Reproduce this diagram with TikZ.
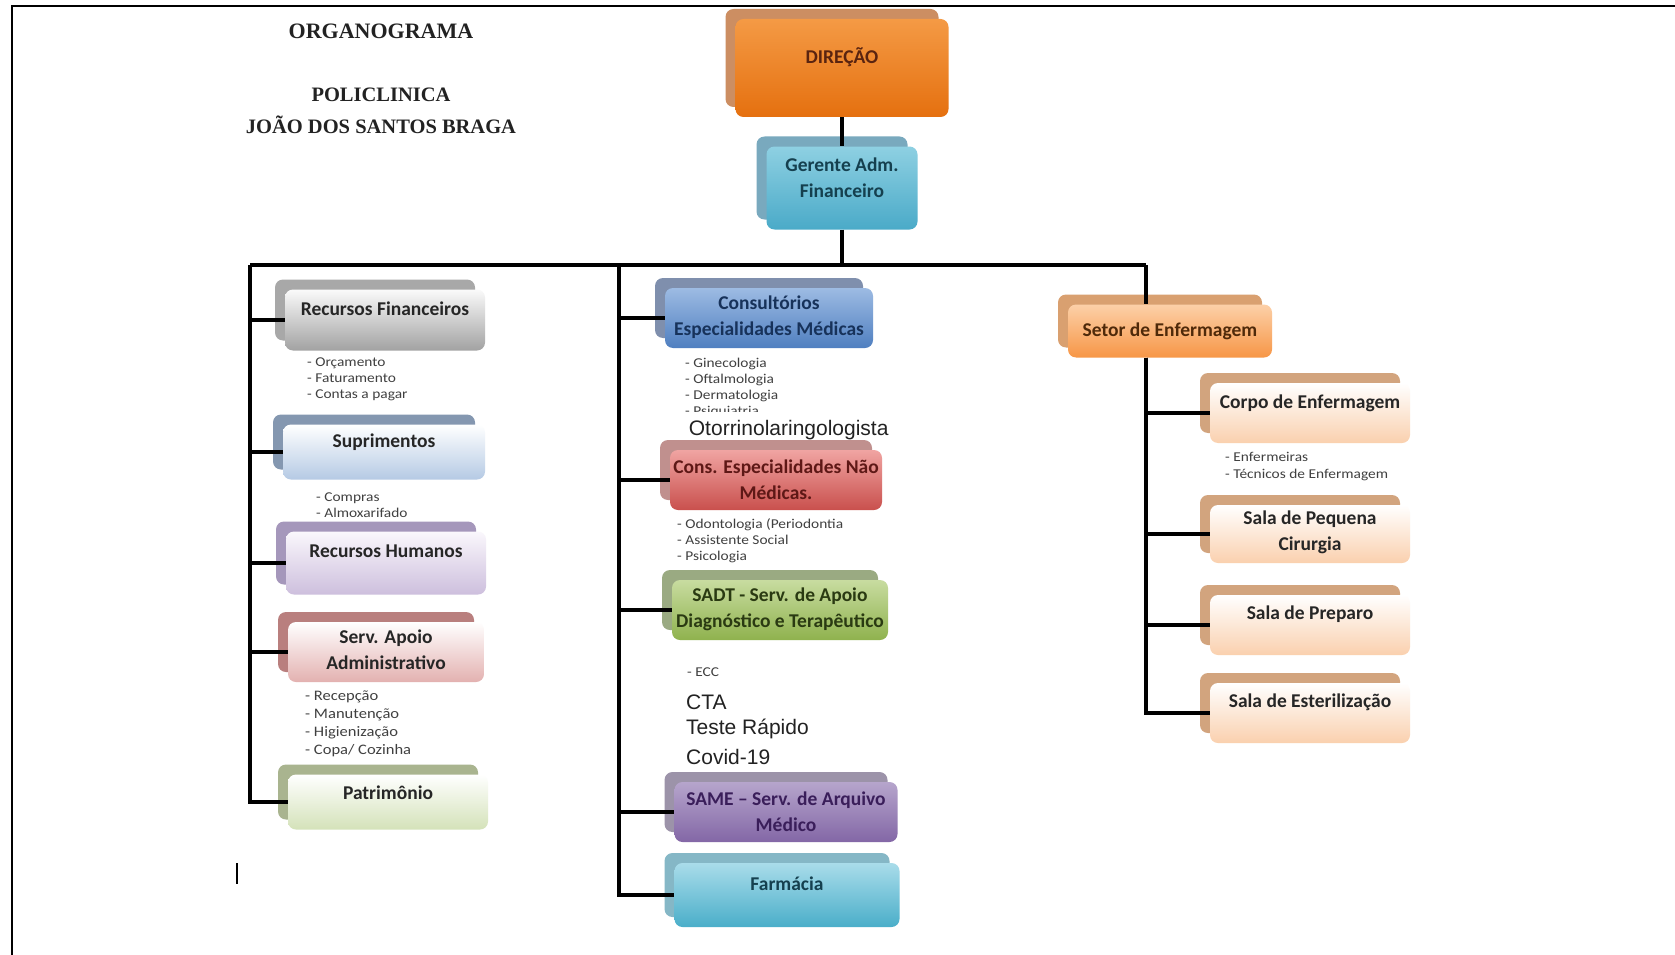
\documentclass[tikz,border=0pt]{standalone}
\usepackage{fontspec}
\newfontfamily\carl{Carlito}
\newfontfamily\carlw[FakeStretch=1.14]{Carlito}
\newfontfamily\asans{Liberation Sans}
\newfontfamily\tserif{Liberation Serif}
\definecolor{subgray}{HTML}{404040}
\definecolor{bigtx}{HTML}{222222}
\definecolor{txdir}{HTML}{5A2410}
\definecolor{txger}{HTML}{15404F}
\definecolor{txd}{HTML}{262626}
\definecolor{txcem}{HTML}{17325A}
\definecolor{txcen}{HTML}{5E1816}
\definecolor{txsadt}{HTML}{2A3A12}
\definecolor{txsame}{HTML}{3A1E5A}
\definecolor{txset}{HTML}{4F2A0A}
\tikzset{
  backbox/.style={rounded corners=8pt, inner sep=0pt},
  frontbox/.style={rounded corners=8pt, inner sep=0pt},
  ttl/.style={font=\carl\bfseries\fontsize{19.5}{26}\selectfont, align=center, inner sep=0pt},
  titlef/.style={font=\tserif\bfseries\fontsize{20.5}{24}\selectfont, text=bigtx, inner sep=0pt},
  sublist/.style={font=\carlw\fontsize{13.5}{16}\selectfont, align=left, anchor=north west, inner sep=0pt, text=subgray},
  bigtext/.style={font=\asans\fontsize{21}{28}\selectfont, anchor=west, inner sep=0pt, text=bigtx},
  link/.style={line width=3.2pt, black},
  cdirF/.style={top color={rgb,255:red,244;green,154;blue,69}, bottom color={rgb,255:red,229;green,112;blue,15}},
  cdirB/.style={fill={rgb,255:red,204;green,142;blue,98}},
  cgerF/.style={top color={rgb,255:red,142;green,208;blue,226}, bottom color={rgb,255:red,74;green,170;blue,200}},
  cgerB/.style={fill={rgb,255:red,121;green,169;blue,190}},
  cgryF/.style={top color={rgb,255:red,250;green,250;blue,250}, bottom color={rgb,255:red,162;green,162;blue,162}},
  cgryB/.style={fill={rgb,255:red,168;green,168;blue,168}},
  cbluF/.style={top color=white, bottom color={rgb,255:red,181;green,202;blue,228}},
  cbluB/.style={fill={rgb,255:red,132;green,151;blue,176}},
  clavF/.style={top color={rgb,255:red,250;green,247;blue,252}, bottom color={rgb,255:red,205;green,191;blue,221}},
  clavB/.style={fill={rgb,255:red,165;green,151;blue,187}},
  cpnkF/.style={top color=white, bottom color={rgb,255:red,227;green,177;blue,176}},
  cpnkB/.style={fill={rgb,255:red,185;green,127;blue,126}},
  cgrnF/.style={top color=white, bottom color={rgb,255:red,212;green,226;blue,185}},
  cgrnB/.style={fill={rgb,255:red,169;green,180;blue,143}},
  cbltF/.style={top color={rgb,255:red,157;green,187;blue,227}, bottom color={rgb,255:red,79;green,127;blue,192}},
  cbltB/.style={fill={rgb,255:red,127;green,143;blue,173}},
  credF/.style={top color={rgb,255:red,240;green,164;blue,162}, bottom color={rgb,255:red,201;green,80;blue,77}},
  credB/.style={fill={rgb,255:red,192;green,144;blue,142}},
  cgrtF/.style={top color={rgb,255:red,200;green,220;blue,160}, bottom color={rgb,255:red,143;green,178;blue,78}},
  cgrtB/.style={fill={rgb,255:red,154;green,170;blue,130}},
  cpurF/.style={top color={rgb,255:red,182;green,165;blue,204}, bottom color={rgb,255:red,131;green,103;blue,166}},
  cpurB/.style={fill={rgb,255:red,156;green,147;blue,169}},
  ctealF/.style={top color={rgb,255:red,169;green,220;blue,234}, bottom color={rgb,255:red,74;green,174;blue,201}},
  ctealB/.style={fill={rgb,255:red,133;green,183;blue,198}},
  corgF/.style={top color={rgb,255:red,252;green,208;blue,168}, bottom color={rgb,255:red,247;green,150;blue,70}},
  corgB/.style={fill={rgb,255:red,217;green,160;blue,112}},
  cpchF/.style={top color=white, bottom color={rgb,255:red,250;green,208;blue,174}},
  cpchB/.style={fill={rgb,255:red,210;green,164;blue,126}},
}
% name, cx, cy, w, h, colourset, textcolour, text dy, text
\newcommand\obox[9]{%
  \node[backbox, #6B, minimum width=#4pt, minimum height=#5pt] (#1-b) at (#2-10,#3-10) {};
  \node[frontbox, #6F, minimum width=#4pt, minimum height=#5pt] (#1) at (#2,#3) {};
  \node[ttl, text=#7] (#1-t) at (#2,#3+#8) {#9};
}
\begin{document}
\begin{tikzpicture}[x=1pt,y=-1pt]
\useasboundingbox (0,0) rectangle (1675,955);
\fill[white] (0,0) rectangle (1675,955);
\draw[line width=2.2pt] (12,955) -- (12,6) -- (1675,6);

% titles
\node[titlef, font=\tserif\bfseries\fontsize{22}{24}\selectfont] (t1) at (381,31) {ORGANOGRAMA};
\node[titlef] (t2) at (381,95) {POLICLINICA};
\node[titlef] (t3) at (381,125) {JOÃO DOS SANTOS BRAGA};

% boxes
\obox{dir}{842}{68}{213}{98}{cdir}{txdir}{-11}{DIREÇÃO}
\obox{ger}{842}{188}{151}{83}{cger}{txger}{-10}{Gerente Adm.\\Financeiro}
\obox{rf}{385}{320}{200}{61}{cgry}{txd}{-11}{Recursos Financeiros}
\obox{sup}{384}{452}{202}{55}{cblu}{txd}{-10}{Suprimentos}
\obox{rh}{386}{563}{200}{63}{clav}{txd}{-12}{Recursos Humanos}
\obox{sa}{386}{652}{196}{60}{cpnk}{txd}{-2}{Serv. Apoio\\Administrativo}
\obox{pat}{388}{802}{200}{55}{cgrn}{txd}{-9}{Patrimônio}
\obox{cem}{769}{318}{208}{60}{cblt}{txcem}{-1}{Consultórios\\Especialidades Médicas}
\obox{cen}{776}{480}{212}{60}{cred}{txcen}{0}{Cons. Especialidades Não\\Médicas.}
\obox{sadt}{780}{610}{216}{60}{cgrt}{txsadt}{-1}{SADT - Serv. de Apoio\\Diagnóstico e Terapêutico}
\obox{same}{786}{812}{223}{60}{cpur}{txsame}{0}{SAME – Serv. de Arquivo\\Médico}
\obox{farm}{787}{895}{225}{64}{cteal}{txger}{-11}{Farmácia}
\obox{setor}{1170}{331}{204}{53}{corg}{txset}{0}{Setor de Enfermagem}
\obox{corpo}{1310}{413}{200}{60}{cpch}{txd}{-10}{Corpo de Enfermagem}
\obox{spc}{1310}{534}{200}{58}{cpch}{txd}{-2}{Sala de Pequena\\Cirurgia}
\obox{spr}{1310}{625}{200}{60}{cpch}{txd}{-11}{Sala de Preparo}
\obox{ses}{1310}{713}{200}{60}{cpch}{txd}{-11}{Sala de Esterilização}

% connectors
\coordinate (L) at (250,265);
\coordinate (M) at (619,265);
\coordinate (R) at (1146,265);
\draw[link] (dir.south) -- (ger.north);
\draw[link] (ger.south) -- (ger.south |- L);
\draw[link] (L) -- (R);
\draw[link] (L) |- (rf.west);
\draw[link] (L) |- (sup.west);
\draw[link] (L) |- (rh.west);
\draw[link] (L) |- (sa.west);
\draw[link] (L) |- (pat.west);
\draw[link] (M) |- (cem.west);
\draw[link] (M) |- (cen.west);
\draw[link] (M) |- (sadt.west);
\draw[link] (M) |- (same.west);
\draw[link] (M) |- (farm.west);
\draw[link] (R) -- (R |- setor.north);
\coordinate (Rs) at (R |- setor.south);
\draw[link] (Rs) |- (corpo.west);
\draw[link] (Rs) |- (spc.west);
\draw[link] (Rs) |- (spr.west);
\draw[link] (Rs) |- (ses.west);

% sub lists
\node[sublist] (rfl) at (307,358) {- Orçamento\\- Faturamento\\- Contas a pagar};
\node[sublist] (supl) at (316,493) {- Compras\\- Almoxarifado};
\node[sublist, font=\carlw\fontsize{14.5}{18}\selectfont] (sal) at (305,691) {- Recepção\\- Manutenção\\- Higienização\\- Copa/ Cozinha};
\node[sublist] (ceml) at (685,358) {- Ginecologia\\- Oftalmologia\\- Dermatologia\\- Psiquiatria};
\node[bigtext, anchor=base west, fill=white, text height=23pt, text depth=5pt, minimum width=205pt] (oto) at (686,435) {Otorrinolaringologista};
\node[sublist] (cenl) at (677,518) {- Odontologia (Periodontia\\- Assistente Social\\- Psicologia};
\node[sublist] (ecc) at (687,668) {- ECC};
\node[bigtext] (cta) at (686,702) {CTA};
\node[bigtext] (tr) at (686,729) {Teste Rápido};
\node[bigtext] (cov) at (686,757) {Covid-19};
\node[sublist, font=\carlw\fontsize{13.5}{17}\selectfont] (corpol) at (1225,452) {- Enfermeiras\\- Técnicos de Enfermagem};

% small stray mark
\draw[line width=1.6pt] (237,863) -- (237,884);
\end{tikzpicture}
\end{document}
